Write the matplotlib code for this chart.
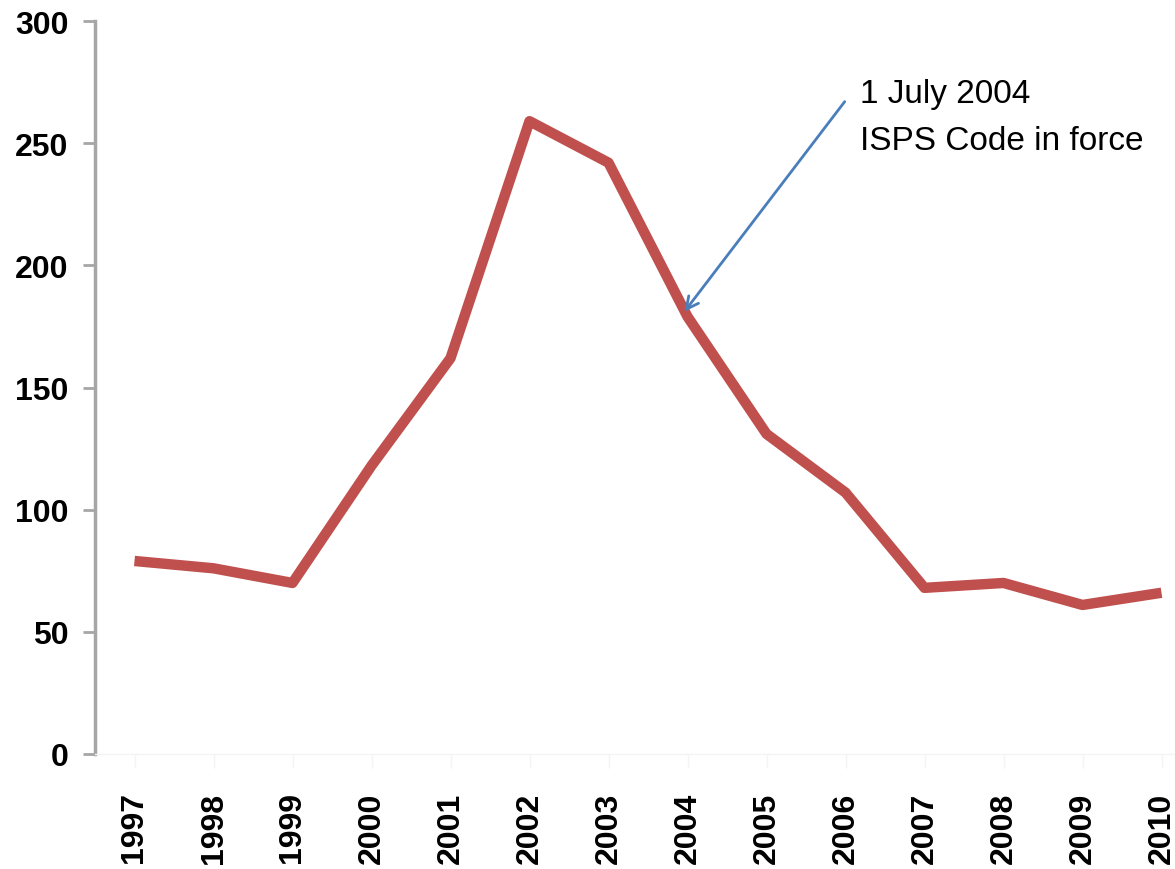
import matplotlib
matplotlib.use("Agg")
import matplotlib.pyplot as plt

years = ["1997", "1998", "1999", "2000", "2001", "2002", "2003",
         "2004", "2005", "2006", "2007", "2008", "2009", "2010"]
incidents = [79, 76, 70, 118, 162, 259, 242, 179, 131, 107, 68, 70, 61, 66]
y_ticks = [0, 50, 100, 150, 200, 250, 300]
note_lines = ["1 July 2004", "ISPS Code in force"]
arrow_tip = ("2004", 181)
arrow_tail = (8.99, 267)

plt.rcParams['font.family'] = ['Liberation Sans', 'DejaVu Sans']

fig = plt.figure(figsize=(11.75, 8.7), dpi=100)
W, H = 1175, 870
left, right, top, bottom = 95, 95 + 14 * 79, 22, 755
ax = fig.add_axes([left / W, 1 - bottom / H, (right - left) / W, (bottom - top) / H])

x = list(range(len(years)))
ax.plot(x, incidents, color="#C0504D", lw=7.5, solid_joinstyle="round",
        solid_capstyle="butt", zorder=3)

ax.set_xlim(-0.5, len(years) - 0.5)
ax.set_ylim(0, 300)
ax.set_yticks(y_ticks)
ax.set_yticklabels([str(v) for v in y_ticks], fontsize=23, fontweight="bold")
ax.set_xticks(x)
ax.set_xticklabels(years, rotation=90, fontsize=23, fontweight="bold")

for s in ["top", "right"]:
    ax.spines[s].set_visible(False)
ax.spines["left"].set_color("#A6A6A6")
ax.spines["left"].set_linewidth(2.5)
ax.spines["bottom"].set_color("#F4F4F4")
ax.spines["bottom"].set_linewidth(1)

ax.tick_params(axis="y", direction="out", length=9, width=2, color="#A6A6A6", pad=10)
ax.tick_params(axis="x", direction="out", length=10, width=1, color="#F4F4F4", pad=17)

tip_x = years.index(arrow_tip[0]) - 0.04
ax.annotate("", xy=(tip_x, arrow_tip[1]), xytext=arrow_tail,
            arrowprops=dict(arrowstyle="->", color="#4A7EBB", lw=2,
                            mutation_scale=22, shrinkA=0, shrinkB=0), zorder=4)

fig.text(860 / W, 1 - 103 / H, note_lines[0], fontsize=24, color="black",
         ha="left", va="baseline")
fig.text(860 / W, 1 - 150 / H, note_lines[1], fontsize=24, color="black",
         ha="left", va="baseline")

fig.savefig("out.png", dpi=100, facecolor="white")
